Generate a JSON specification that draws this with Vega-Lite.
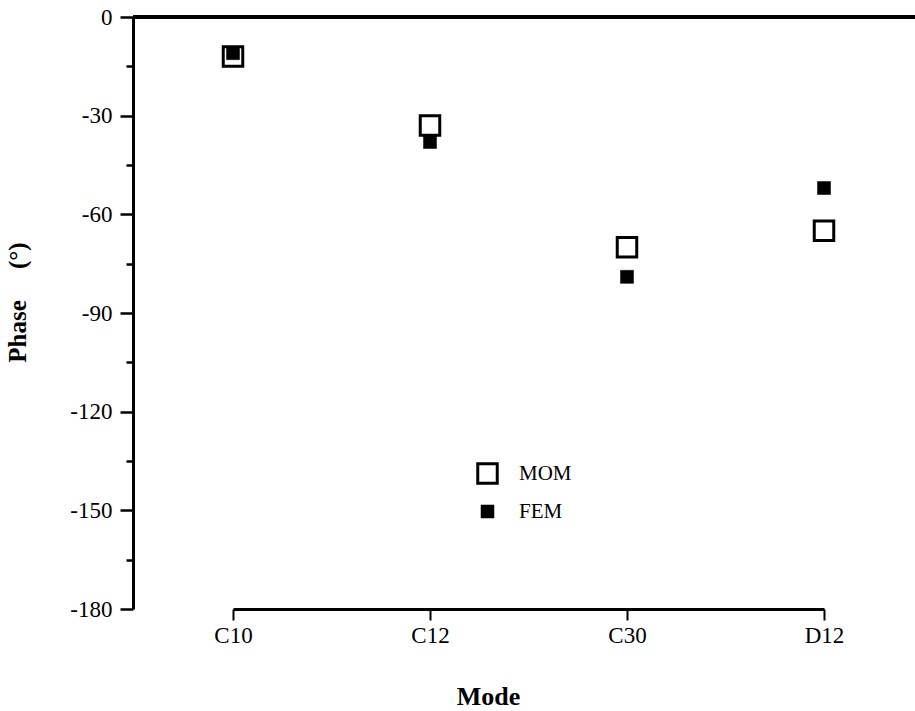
{
  "$schema": "https://vega.github.io/schema/vega-lite/v6.json",
  "width": 782,
  "height": 592,
  "autosize": "none",
  "padding": {"left": 133, "top": 17, "right": 0, "bottom": 102},
  "background": "white",
  "config": {
    "view": {"stroke": null},
    "font": "Liberation Serif",
    "legend": {
      "title": null,
      "orient": "none",
      "legendX": 343,
      "legendY": 445,
      "labelFont": "Liberation Serif",
      "labelFontSize": 21,
      "labelColor": "black",
      "labelOffset": 20,
      "rowPadding": 10,
      "symbolType": "square"
    }
  },
  "data": {
    "values": [
      {"mode": "C10", "method": "MOM", "phase": -12},
      {"mode": "C12", "method": "MOM", "phase": -33},
      {"mode": "C30", "method": "MOM", "phase": -70},
      {"mode": "D12", "method": "MOM", "phase": -65},
      {"mode": "C10", "method": "FEM", "phase": -11},
      {"mode": "C12", "method": "FEM", "phase": -38},
      {"mode": "C30", "method": "FEM", "phase": -79},
      {"mode": "D12", "method": "FEM", "phase": -52}
    ]
  },
  "layer": [
    {
      "mark": {"type": "rule", "color": "black", "strokeWidth": 3},
      "encoding": {"y": {"datum": 0, "type": "quantitative"}}
    },
    {
      "mark": {"type": "point", "shape": "square", "opacity": 1},
      "encoding": {
        "x": {
          "field": "mode",
          "type": "nominal",
          "sort": ["C10", "C12", "C30", "D12"],
          "scale": {"type": "point", "range": [100, 691], "padding": 0},
          "axis": {
            "title": "Mode",
            "titleFont": "Liberation Serif",
            "titleFontSize": 26,
            "titleFontWeight": "bold",
            "titleColor": "black",
            "titleX": 355,
            "titleY": 95,
            "titleBaseline": "alphabetic",
            "labelFont": "Liberation Serif",
            "labelFontSize": 23,
            "labelColor": "black",
            "labelPadding": 4,
            "labelAngle": 0,
            "domainColor": "black",
            "domainWidth": 3,
            "tickColor": "black",
            "tickWidth": 2,
            "tickSize": 11,
            "grid": false
          }
        },
        "y": {
          "field": "phase",
          "type": "quantitative",
          "scale": {"domain": [-180, 0], "nice": false, "zero": false},
          "axis": {
            "title": "Phase\u00a0\u00a0\u00a0\u00a0\u00a0(°)",
            "titleFont": "Liberation Serif",
            "titleFontSize": 25,
            "titleFontWeight": "bold",
            "titleX": -103,
            "titleY": 285,
            "titleColor": "black",
            "values": [0, -15, -30, -45, -60, -75, -90, -105, -120, -135, -150, -165, -180],
            "labelExpr": "datum.value % 30 === 0 ? ('' + datum.value) : ''",
            "labelFont": "Liberation Serif",
            "labelFontSize": 23,
            "labelColor": "black",
            "labelPadding": 8,
            "domainColor": "black",
            "domainWidth": 3,
            "tickColor": "black",
            "tickWidth": 2.5,
            "tickSize": {"condition": {"test": "datum.value % 30 === 0", "value": 13}, "value": 7},
            "grid": false
          }
        },
        "size": {
          "field": "method",
          "type": "nominal",
          "scale": {"domain": ["MOM", "FEM"], "range": [380, 170]}
        },
        "fill": {
          "field": "method",
          "type": "nominal",
          "scale": {"domain": ["MOM", "FEM"], "range": ["white", "black"]}
        },
        "stroke": {
          "field": "method",
          "type": "nominal",
          "scale": {"domain": ["MOM", "FEM"], "range": ["black", "black"]}
        },
        "strokeWidth": {
          "field": "method",
          "type": "nominal",
          "scale": {"domain": ["MOM", "FEM"], "range": [3, 0.5]}
        }
      }
    }
  ]
}
